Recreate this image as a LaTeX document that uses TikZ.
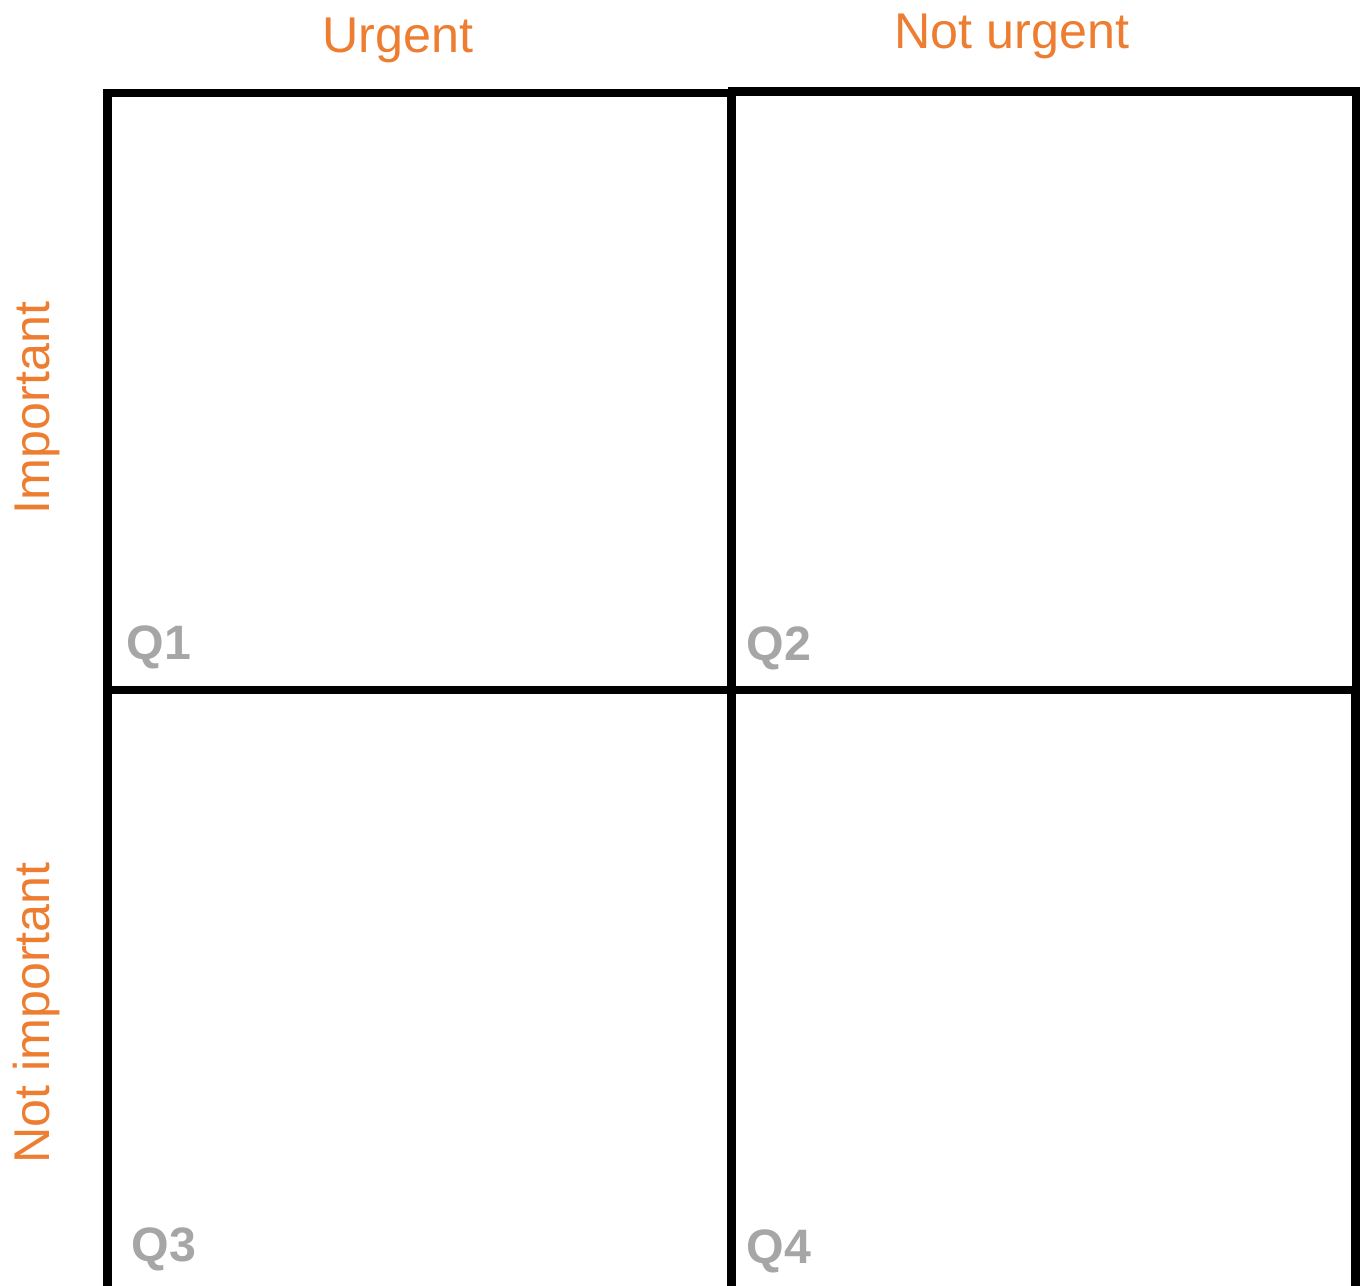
\documentclass[tikz,border=0pt]{standalone}
\usepackage{fontspec}
\setmainfont{Liberation Sans}
\usetikzlibrary{positioning}
\definecolor{axisorange}{HTML}{ED7D31}
\definecolor{qgray}{HTML}{A6A6A6}

\begin{document}
\begin{tikzpicture}[x=0.02cm,y=0.02cm,
  quad/.style={draw=black,line width=4.8pt,rectangle,inner sep=0pt,outer sep=0pt,anchor=north west,minimum width=12.48cm},
  axislabel/.style={text=axisorange,font=\fontsize{28.6}{31}\selectfont,anchor=base},
  qlabel/.style={text=qgray,font=\fontsize{27.5}{30}\selectfont\bfseries,anchor=base west}]
\useasboundingbox (0,0) rectangle (1361,1285);
\clip (0,0) rectangle (1361,1285);
% the four quadrants
\node[quad,minimum height=11.94cm] (q1) at (107.5,1192) {};
\node[quad,minimum height=11.97cm] (q2) at (732,1193.5) {};
\node[quad,minimum height=12.04cm] (q3) at (107.5,595) {};
\node[quad,minimum height=12.04cm] (q4) at (731.5,595) {};
\node[qlabel] (q1lbl) at ([shift={(13,30)}]q1.south west) {Q1};
\node[qlabel] (q2lbl) at ([shift={(8.5,29)}]q2.south west) {Q2};
\node[qlabel] (q3lbl) at ([shift={(18,30)}]q3.south west) {Q3};
\node[qlabel] (q4lbl) at ([shift={(9,28)}]q4.south west) {Q4};
% axis labels
\node[axislabel] (urgent) at (398,1232) {Urgent};
\node[axislabel] (noturgent) at (1012,1236) {Not urgent};
\node[axislabel,rotate=90] (important) at (49,877) {Important};
\node[axislabel,rotate=90] (notimportant) at (49,272) {Not important};
\end{tikzpicture}
\end{document}
